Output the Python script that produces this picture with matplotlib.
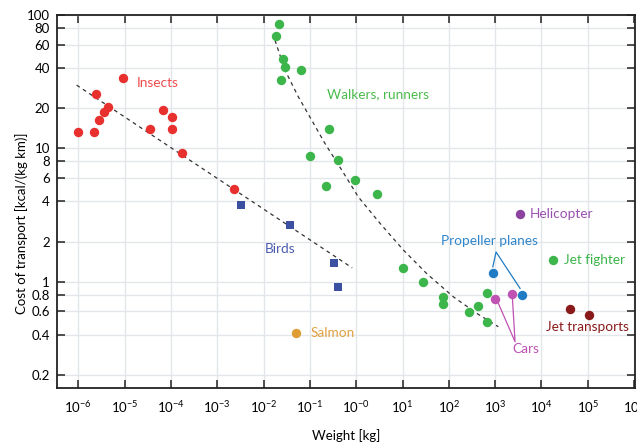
import numpy as np
import matplotlib
matplotlib.use("Agg")
from matplotlib import pyplot as plt

plt.rcParams['font.family'] = ['Lato', 'DejaVu Sans']
plt.rcParams['mathtext.fontset'] = 'custom'
plt.rcParams['mathtext.rm'] = 'Lato'
plt.rcParams['mathtext.it'] = 'Lato:italic'

# weight [kg], cost of transport [kcal/(kg km)]
insects_w = [1.0e-6, 2.4e-6, 2.2e-6, 2.8e-6, 3.5e-6, 4.3e-6, 9.2e-6,
             3.5e-5, 6.6e-5, 1.04e-4, 1.07e-4, 1.76e-4, 2.27e-3]
insects_c = [13.3, 25.5, 13.2, 16.3, 18.8, 20.5, 33.7,
             14.1, 19.3, 17.2, 14.1, 9.3, 4.95]

walkers_w = [0.0212, 0.0186, 0.0259, 0.0295, 0.0235, 0.0644, 0.102, 0.259,
             0.411, 0.226, 0.944, 2.78, 10.4, 27.4, 74, 74, 277, 434, 679, 679]
walkers_c = [85.6, 70.4, 46.8, 40.7, 32.5, 39.1, 8.75, 14.0,
             8.17, 5.19, 5.78, 4.59, 1.26, 0.99, 0.77, 0.676, 0.594, 0.653, 0.826, 0.495]

birds_w = [3.2e-3, 0.038, 0.327, 0.406]
birds_c = [3.76, 2.66, 1.39, 0.91]

salmon_w, salmon_c = [0.051], [0.41]
heli_w, heli_c = [3450], [3.23]
fighter_w, fighter_c = [18100], [1.45]
prop_w, prop_c = [915, 3760], [1.16, 0.794]
cars_w, cars_c = [995, 2285], [0.741, 0.811]
jets_w, jets_c = [41500, 105000], [0.62, 0.565]

# trend lines
insect_fit_w = [9.2e-7, 0.82]
insect_fit_c = [29.9, 1.27]
walker_fit_w = [0.01766, 0.029, 0.0564, 0.1096, 0.212, 0.488, 1.11, 3.27,
                10.4, 33.3, 125, 401, 1170]
walker_fit_c = [64.9, 38.7, 24.4, 16.3, 10.9, 6.88, 4.33, 2.74,
                1.73, 1.15, 0.77, 0.578, 0.459]

RED = '#e8302e'
GREEN = '#3cb54a'
BIRD = '#3c50a2'
ORANGE = '#de9c34'
PURPLE = '#8c43a0'
BLUE = '#1f7cc4'
PINK = '#bf52b3'
DARKRED = '#8a1a1a'

fig = plt.figure(figsize=(6.37, 4.42), dpi=100)
ax = fig.add_axes([0.0895, 0.1229, 0.9075, 0.8425])
ax.set_xscale('log')
ax.set_yscale('log')
ax.set_xlim(3.47e-7, 1.05e6)
ax.set_ylim(0.16, 100)

dot = 46
ax.plot(insect_fit_w, insect_fit_c, color='#333333', lw=0.9, ls=(0, (3, 3)), zorder=2)
ax.plot(walker_fit_w, walker_fit_c, color='#333333', lw=0.9, ls=(0, (3, 3)), zorder=2)

ax.scatter(insects_w, insects_c, s=dot, color=RED, lw=0, zorder=3)
ax.scatter(walkers_w, walkers_c, s=dot, color=GREEN, lw=0, zorder=3)
ax.scatter(birds_w, birds_c, s=36, marker='s', color=BIRD, lw=0, zorder=3)
ax.scatter(salmon_w, salmon_c, s=dot, color=ORANGE, lw=0, zorder=3)
ax.scatter(heli_w, heli_c, s=dot, color=PURPLE, lw=0, zorder=3)
ax.scatter(fighter_w, fighter_c, s=dot, color=GREEN, lw=0, zorder=3)
ax.scatter(prop_w, prop_c, s=dot, color=BLUE, lw=0, zorder=3)
ax.scatter(cars_w, cars_c, s=dot, color=PINK, lw=0, zorder=3)
ax.scatter(jets_w, jets_c, s=dot, color=DARKRED, lw=0, zorder=3)

fs = 9.8
ax.text(1.85e-5, 30.9, 'Insects', color='#f04a4a', fontsize=fs, va='center')
ax.text(0.231, 25.4, 'Walkers, runners', color='#4cbb4c', fontsize=fs, va='center')
ax.text(0.0108, 1.75, 'Birds', color='#4a5bae', fontsize=fs, va='center')
ax.text(0.101, 0.41, 'Salmon', color='#e0a040', fontsize=fs, va='center')
ax.text(5670, 3.23, 'Helicopter', color='#9a50b0', fontsize=fs, va='center')
ax.text(31200, 1.45, 'Jet fighter', color=GREEN, fontsize=fs, va='center')
ax.text(67, 2.03, 'Propeller planes', color='#2f86cc', fontsize=fs, va='center')
ax.text(2355, 0.31, 'Cars', color=PINK, fontsize=fs, va='center')
ax.text(12400, 0.459, 'Jet transports', color=DARKRED, fontsize=fs, va='center')

# leader lines from labels to their dots
ax.plot([889, 1045, 3450], [1.29, 1.67, 0.89], color=BLUE, lw=0.9, zorder=2)
ax.plot([1172, 2690, 2355], [0.687, 0.354, 0.757], color=PINK, lw=0.9, zorder=2)

xt = [10.0 ** k for k in range(-6, 7)]
xl = [r'$10^{%d}$' % k for k in range(-6, 7)]
xl[6] = r'$10^{-0}$'
ax.set_xticks(xt)
ax.set_xticklabels(xl, fontsize=9.5)
ax.xaxis.set_minor_locator(matplotlib.ticker.NullLocator())
yt = [0.2, 0.4, 0.6, 0.8, 1, 2, 4, 6, 8, 10, 20, 40, 60, 80, 100]
yl = ['0.2', '0.4', '0.6', '0.8', '1', '2', '4', '6', '8', '10', '20', '40', '60', '80', '100']
ax.set_yticks(yt)
ax.set_yticklabels(yl, fontsize=9.5)
ax.yaxis.set_minor_locator(matplotlib.ticker.NullLocator())

ax.tick_params(axis='both', direction='in', length=6, width=1.1, color='#222222',
               top=True, right=True, pad=5)
ax.tick_params(axis='x', pad=8)
ax.grid(True, color='#e3e6ea', lw=1.0, zorder=0)
ax.set_axisbelow(True)
for s in ax.spines.values():
    s.set_linewidth(1.3)
    s.set_color('#222222')

ax.set_xlabel('Weight [kg]', fontsize=9.5, labelpad=10)
ax.set_ylabel('Cost of transport [kcal/(kg km)]', fontsize=9.5, va='center')
ax.yaxis.set_label_coords(-0.061, 0.442)

fig.savefig('out.png', dpi=100)
